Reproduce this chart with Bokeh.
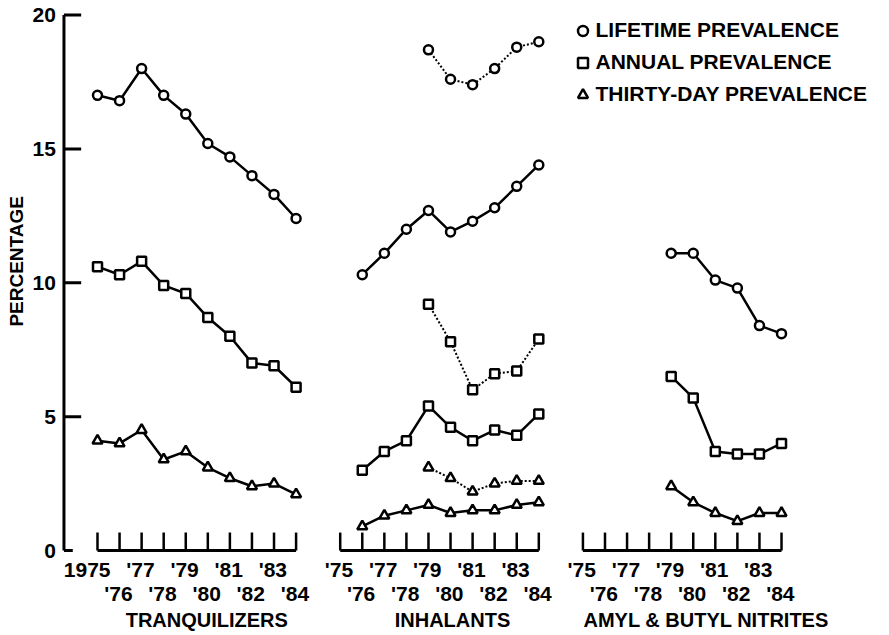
import math
from bokeh.plotting import figure
from bokeh.models import Range1d, Legend, LegendItem
from bokeh.core.properties import value
from bokeh.embed import file_html
from bokeh.resources import INLINE

# ---------------- data ----------------
years = [1975, 1976, 1977, 1978, 1979, 1980, 1981, 1982, 1983, 1984]
years_inhal = [1976, 1977, 1978, 1979, 1980, 1981, 1982, 1983, 1984]
years_adj = [1979, 1980, 1981, 1982, 1983, 1984]

tranq_life = [17.0, 16.8, 18.0, 17.0, 16.3, 15.2, 14.7, 14.0, 13.3, 12.4]
tranq_annual = [10.6, 10.3, 10.8, 9.9, 9.6, 8.7, 8.0, 7.0, 6.9, 6.1]
tranq_30day = [4.1, 4.0, 4.5, 3.4, 3.7, 3.1, 2.7, 2.4, 2.5, 2.1]

inhal_life = [10.3, 11.1, 12.0, 12.7, 11.9, 12.3, 12.8, 13.6, 14.4]
inhal_annual = [3.0, 3.7, 4.1, 5.4, 4.6, 4.1, 4.5, 4.3, 5.1]
inhal_30day = [0.9, 1.3, 1.5, 1.7, 1.4, 1.5, 1.5, 1.7, 1.8]

inhal_adj_life = [18.7, 17.6, 17.4, 18.0, 18.8, 19.0]
inhal_adj_annual = [9.2, 7.8, 6.0, 6.6, 6.7, 7.9]
inhal_adj_30day = [3.1, 2.7, 2.2, 2.5, 2.6, 2.6]

nitr_life = [11.1, 11.1, 10.1, 9.8, 8.4, 8.1]
nitr_annual = [6.5, 5.7, 3.7, 3.6, 3.6, 4.0]
nitr_30day = [2.4, 1.8, 1.4, 1.1, 1.4, 1.4]

groups = ["TRANQUILIZERS", "INHALANTS", "AMYL & BUTYL NITRITES"]
group_offset = [0, 11, 22]          # slot of each panel on the shared x scale
y_ticks = [0, 5, 10, 15, 20]
y_tick_labels = ["0", "5", "10", "15", "20"]
odd_labels = [["1975", "'77", "'79", "'81", "'83"],
              ["'75", "'77", "'79", "'81", "'83"],
              ["'75", "'77", "'79", "'81", "'83"]]
even_labels = ["'76", "'78", "'80", "'82", "'84"]
legend_labels = ["LIFETIME PREVALENCE", "ANNUAL PREVALENCE", "THIRTY-DAY PREVALENCE"]

# ---------------- styling / layout ----------------
FONT = value("Liberation Sans")
INK = "black"
AXIS_X = -1.52

p = figure(width=889, height=635, output_backend="svg", toolbar_location=None,
           x_range=Range1d(-4.396, 35.894), y_range=Range1d(-3.1746, 20.542),
           x_axis_location=None, y_axis_location=None, min_border=0,
           outline_line_color=None, background_fill_color="white",
           border_fill_color="white")
p.grid.visible = False


def xs_for(yrs, off):
    return [y - years[0] + off for y in yrs]


def series(yrs, vals, off, marker, size, dash="solid", lw=2.5):
    xs = xs_for(yrs, off)
    p.line(xs, vals, line_color=INK, line_width=lw, line_dash=dash,
           line_join="round")
    return p.scatter(xs, vals, marker=marker, size=size, fill_color="white",
                     line_color=INK, line_width=2.5)


r_life = series(years, tranq_life, group_offset[0], "circle", 9)
r_ann = series(years, tranq_annual, group_offset[0], "square", 9)
r_30 = series(years, tranq_30day, group_offset[0], "triangle", 10)

series(years_inhal, inhal_life, group_offset[1], "circle", 9)
series(years_inhal, inhal_annual, group_offset[1], "square", 9)
series(years_inhal, inhal_30day, group_offset[1], "triangle", 10)
series(years_adj, inhal_adj_life, group_offset[1], "circle", 9, dash="2 2", lw=2)
series(years_adj, inhal_adj_annual, group_offset[1], "square", 9, dash="2 2", lw=2)
series(years_adj, inhal_adj_30day, group_offset[1], "triangle", 10, dash="2 2", lw=2)

series(years_adj, nitr_life, group_offset[2], "circle", 9)
series(years_adj, nitr_annual, group_offset[2], "square", 9)
series(years_adj, nitr_30day, group_offset[2], "triangle", 10)

# ---- y axis ----
p.segment(x0=[AXIS_X], y0=[y_ticks[0]], x1=[AXIS_X], y1=[y_ticks[-1]],
          line_color=INK, line_width=3)
p.segment(x0=[AXIS_X] * 4, y0=y_ticks[1:], x1=[AXIS_X + 0.78] * 4, y1=y_ticks[1:],
          line_color=INK, line_width=3)
p.segment(x0=[AXIS_X], y0=[0], x1=[AXIS_X + 0.4], y1=[0],
          line_color=INK, line_width=3)
p.text(x=[AXIS_X] * len(y_ticks), y=y_ticks, text=y_tick_labels,
       x_offset=-8, text_align="right", text_baseline="middle",
       text_font=FONT, text_font_style="bold", text_font_size="21px",
       text_color=INK)
p.text(x=[AXIS_X], y=[10.8], text=["PERCENTAGE"], x_offset=-47,
       angle=math.pi / 2, text_align="center", text_baseline="middle",
       text_font=FONT, text_font_style="bold", text_font_size="19px",
       text_color=INK)

# ---- x tick groups ----
title_shift = [10, 13, 24]
for gi, off in enumerate(group_offset):
    tx = xs_for(years, off)
    p.segment(x0=[tx[0]], y0=[0], x1=[tx[-1]], y1=[0], line_color=INK,
              line_width=3)
    p.segment(x0=tx, y0=[0] * len(tx), x1=tx, y1=[0.67] * len(tx),
              line_color=INK, line_width=2.5)
    p.text(x=tx[0::2], y=[0] * 5, text=odd_labels[gi], x_offset=13, y_offset=19,
           text_align="right", text_baseline="middle", text_font=FONT,
           text_font_style="bold", text_font_size="21px", text_color=INK)
    p.text(x=tx[1::2], y=[0] * 5, text=even_labels, x_offset=13, y_offset=43,
           text_align="right", text_baseline="middle", text_font=FONT,
           text_font_style="bold", text_font_size="21px", text_color=INK)
    p.text(x=[(tx[0] + tx[-1]) / 2], y=[0], text=[groups[gi]],
           x_offset=title_shift[gi], y_offset=69, text_align="center",
           text_baseline="middle", text_font=FONT, text_font_style="bold",
           text_font_size="20px", text_color=INK)

# ---- legend ----
legend = Legend(items=[LegendItem(label=legend_labels[0], renderers=[r_life]),
                       LegendItem(label=legend_labels[1], renderers=[r_ann]),
                       LegendItem(label=legend_labels[2], renderers=[r_30])],
                location=(569.5, 528.5), orientation="vertical",
                glyph_width=25, glyph_height=25, spacing=7, padding=0, margin=0,
                label_standoff=1, label_text_font="Liberation Sans",
                label_text_font_style="bold", label_text_font_size="21px",
                label_text_color=INK, label_text_baseline="middle",
                border_line_alpha=0, background_fill_alpha=0)
p.add_layout(legend)

open("out.html", "w").write(file_html(p, INLINE))
